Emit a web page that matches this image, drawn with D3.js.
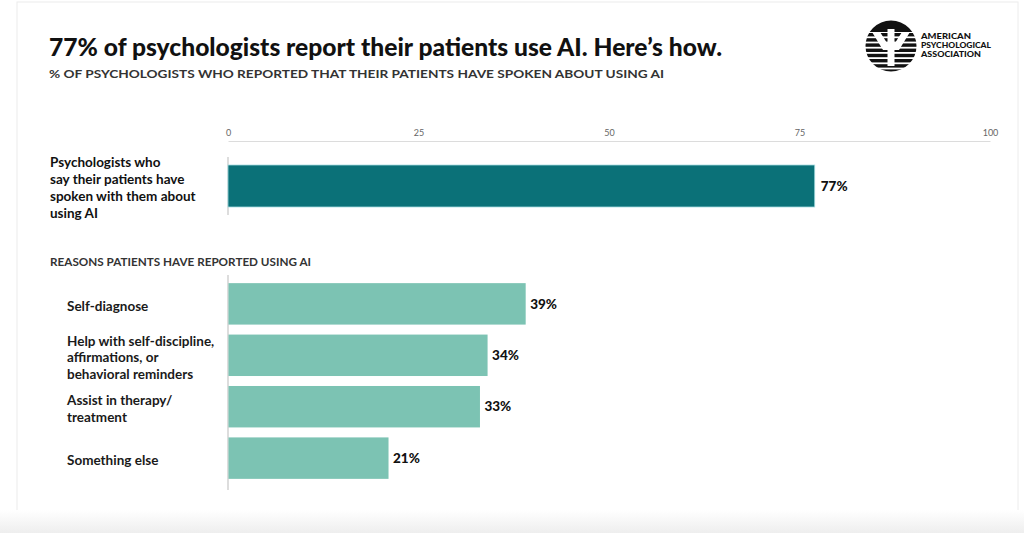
<!DOCTYPE html>
<html>
<head>
<meta charset="utf-8">
<script src="https://cdn.jsdelivr.net/npm/d3@7"></script>
<style>
  body { margin: 0; background: #fff; }
  svg { display: block; font-family: Lato, "Open Sans", sans-serif; }
  .axis path, .axis line { stroke: #dcdcdc; }
  .axis .tick line { display: none; }
  .axis text { fill: #666; font-size: 9px; font-family: Lato, sans-serif; }
</style>
</head>
<body>
<div id="chart"></div>
<script>
// data
var headLabel = ['Psychologists who', 'say their patients have', 'spoken with them about', 'using AI'];
var headValue = 77;
var reasons = ['Self-diagnose', 'Help with self-discipline, affirmations, or behavioral reminders', 'Assist in therapy/ treatment', 'Something else'];
var reasonLines = [
    ['Self-diagnose'],
    ['Help with self-discipline,', 'affirmations, or', 'behavioral reminders'],
    ['Assist in therapy/', 'treatment'],
    ['Something else']
];
var reasonValues = [39, 34, 33, 21];
var tickValues = [0, 25, 50, 75, 100];

var width = 1024, height = 533;

var svg = d3.select('#chart')
    .append('svg')
    .attr('width', width)
    .attr('height', height);

// card background
var defs = svg.append('defs');
var grad = defs.append('linearGradient')
    .attr('id', 'fade')
    .attr('x1', 0).attr('x2', 0).attr('y1', 0).attr('y2', 1);
grad.append('stop').attr('offset', '0%').attr('stop-color', '#ffffff');
grad.append('stop').attr('offset', '100%').attr('stop-color', '#eeeeee');

svg.append('rect')
    .attr('x', 17).attr('y', 2)
    .attr('width', 1001).attr('height', 540)
    .attr('fill', '#fff')
    .attr('stroke', '#ececec');
svg.append('rect')
    .attr('x', 0).attr('y', 510)
    .attr('width', width).attr('height', 23)
    .attr('fill', 'url(#fade)');

// titles
svg.append('text')
    .attr('x', 49).attr('y', 56)
    .attr('font-size', 24)
    .attr('font-weight', 900)
    .attr('fill', '#111')
    .attr('textLength', 673)
    .attr('lengthAdjust', 'spacingAndGlyphs')
    .text("77% of psychologists report their patients use AI. Here\u2019s how.");

svg.append('text')
    .attr('x', 49).attr('y', 78)
    .attr('font-size', 11)
    .attr('font-weight', 700)
    .attr('fill', '#333')
    .attr('textLength', 615)
    .attr('lengthAdjust', 'spacingAndGlyphs')
    .text('% OF PSYCHOLOGISTS WHO REPORTED THAT THEIR PATIENTS HAVE SPOKEN ABOUT USING AI');

// logo
var logo = svg.append('g').attr('transform', 'translate(891,46)');
defs.append('clipPath').attr('id', 'logoClip')
    .append('circle').attr('r', 25.5);
var lg = logo.append('g').attr('clip-path', 'url(#logoClip)');
lg.append('rect').attr('x', -26).attr('y', -26).attr('width', 52).attr('height', 52).attr('fill', '#fff');
lg.append('rect').attr('x', -26).attr('y', -26).attr('width', 52).attr('height', 12).attr('fill', '#111');
d3.range(-13, 26, 5.2).forEach(function(y) {
    lg.append('rect').attr('x', -26).attr('y', y).attr('width', 52).attr('height', 3.4).attr('fill', '#111');
});
lg.append('path')
    .attr('d', 'M-19,-14 L-11,-14 L-4,-3 L-3.5,-3 L-3.5,-17 L3.5,-17 L3.5,-3 L4,-3 L11,-14 L19,-14 L8,4 L3.5,4 L3.5,20 L-3.5,20 L-3.5,4 L-8,4 Z')
    .attr('fill', '#fff');
['AMERICAN', 'PSYCHOLOGICAL', 'ASSOCIATION'].forEach(function(t, i) {
    svg.append('text')
        .attr('x', 921).attr('y', 39 + i * 9)
        .attr('font-size', 7)
        .attr('font-weight', 900)
        .attr('fill', '#111')
        .attr('textLength', [50, 70, 60][i])
        .attr('lengthAdjust', 'spacingAndGlyphs')
        .text(t);
});

// scales
var xScale = d3.scaleLinear()
    .domain([0, 100])
    .range([228, 990]);

var xAxis = d3.axisTop(xScale)
    .tickValues(tickValues)
    .tickSize(0)
    .tickPadding(5);

svg.append('g')
    .attr('class', 'axis')
    .attr('transform', 'translate(0,141)')
    .call(xAxis);

// top bar
var yTop = d3.scaleBand()
    .domain(['head'])
    .range([157, 215])
    .padding(0.16);

svg.append('line')
    .attr('x1', 228).attr('x2', 228)
    .attr('y1', 157).attr('y2', 215)
    .attr('stroke', '#bbb');

svg.selectAll('.head-bar')
    .data([headValue])
    .enter()
    .append('rect')
    .attr('class', 'head-bar')
    .attr('x', xScale(0))
    .attr('y', yTop('head'))
    .attr('width', function(d) { return xScale(d) - xScale(0); })
    .attr('height', yTop.bandwidth())
    .attr('fill', '#0b7178')
    .attr('stroke', '#a6dde0')
    .attr('stroke-width', 0.8);

svg.append('text')
    .attr('x', xScale(headValue) + 6)
    .attr('y', yTop('head') + yTop.bandwidth() / 2)
    .attr('dy', '0.35em')
    .attr('font-size', 13.5)
    .attr('font-weight', 900)
    .attr('fill', '#111')
    .text(headValue + '%');

svg.append('text')
    .attr('x', 50).attr('y', 162)
    .attr('font-size', 13.5)
    .attr('font-weight', 700)
    .attr('fill', '#111')
    .selectAll('tspan')
    .data(headLabel)
    .enter()
    .append('tspan')
    .attr('x', 50)
    .attr('dy', function(d, i) { return i === 0 ? '0.35em' : 17; })
    .text(function(d) { return d; });

// reasons section
svg.append('text')
    .attr('x', 50).attr('y', 262)
    .attr('dy', '0.35em')
    .attr('font-size', 10.5)
    .attr('font-weight', 700)
    .attr('fill', '#333')
    .attr('textLength', 261)
    .attr('lengthAdjust', 'spacingAndGlyphs')
    .text('REASONS PATIENTS HAVE REPORTED USING AI');

var yScale = d3.scaleBand()
    .domain(reasons)
    .range([278, 484])
    .paddingInner(0.194)
    .paddingOuter(0.1);

svg.append('line')
    .attr('x1', 228).attr('x2', 228)
    .attr('y1', 275).attr('y2', 490)
    .attr('stroke', '#bbb');

svg.selectAll('.bar')
    .data(reasonValues)
    .enter()
    .append('rect')
    .attr('class', 'bar')
    .attr('x', xScale(0) + 0.5)
    .attr('y', function(d, i) { return yScale(reasons[i]); })
    .attr('width', function(d) { return xScale(d) - xScale(0); })
    .attr('height', yScale.bandwidth())
    .attr('fill', '#7cc3b3');

svg.selectAll('.bar-label')
    .data(reasonValues)
    .enter()
    .append('text')
    .attr('class', 'bar-label')
    .attr('x', function(d) { return xScale(d) + 5; })
    .attr('y', function(d, i) { return yScale(reasons[i]) + yScale.bandwidth() / 2; })
    .attr('dy', '0.35em')
    .attr('font-size', 13.5)
    .attr('font-weight', 900)
    .attr('fill', '#111')
    .text(function(d) { return d + '%'; });

var catLabels = svg.selectAll('.cat-label')
    .data(reasonLines)
    .enter()
    .append('text')
    .attr('class', 'cat-label')
    .attr('font-size', 13.5)
    .attr('font-weight', 700)
    .attr('fill', '#1a1a1a')
    .attr('y', function(d, i) {
        var mid = yScale(reasons[i]) + yScale.bandwidth() / 2;
        return mid - (d.length - 1) * 16.5 / 2 + 2;
    });

catLabels.selectAll('tspan')
    .data(function(d) { return d; })
    .enter()
    .append('tspan')
    .attr('x', 67)
    .attr('dy', function(d, i) { return i === 0 ? '0.35em' : 16.5; })
    .text(function(d) { return d; });
</script>
</body>
</html>
